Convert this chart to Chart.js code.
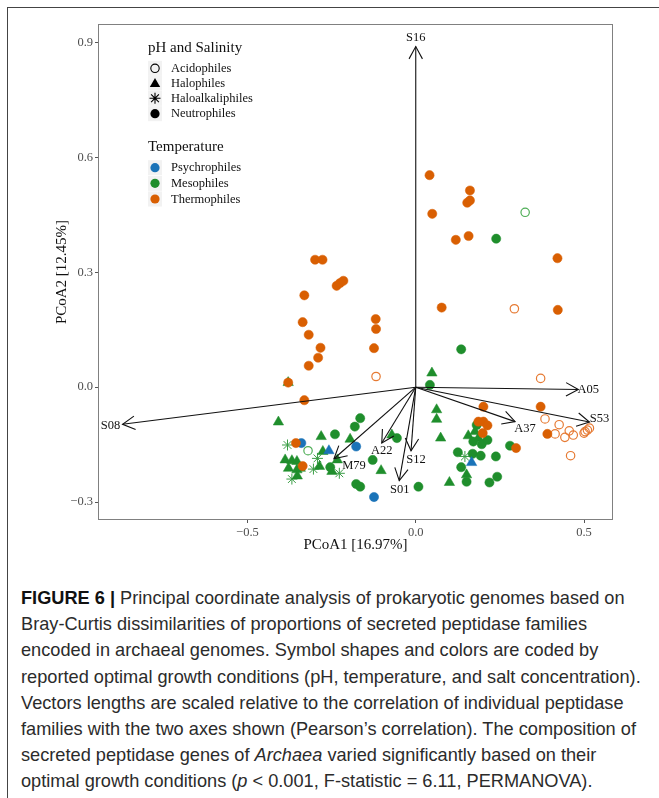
<!DOCTYPE html>
<html>
<head>
<meta charset="utf-8">
<script src="https://cdn.jsdelivr.net/npm/chart.js@4.4.0/dist/chart.umd.min.js"></script>
<style>
    html, body { margin: 0; padding: 0; background: #fff; }
    body { width: 659px; height: 798px; position: relative; overflow: hidden; }
    #frame { position: absolute; left: 7px; top: 7px; width: 700px; height: 820px;
             border-left: 1px solid #444; border-top: 1px solid #444; }
    #plot { position: absolute; left: 0; top: 0; width: 659px; height: 560px; }
    #caption { position: absolute; left: 21px; top: 585px; color: #2b2b2b;
               font-family: "Liberation Sans", Arial, sans-serif; font-size: 18.2px;
               line-height: 26.2px; white-space: nowrap; }
    #caption b { font-weight: bold; color: #111; }
</style>
</head>
<body>
<div id="frame"></div>
<div id="plot"><canvas id="pcoaChart"></canvas></div>
<div id="caption">
    <div><b>FIGURE 6 |</b> Principal coordinate analysis of prokaryotic genomes based on</div>
    <div>Bray-Curtis dissimilarities of proportions of secreted peptidase families</div>
    <div>encoded in archaeal genomes. Symbol shapes and colors are coded by</div>
    <div>reported optimal growth conditions (pH, temperature, and salt concentration).</div>
    <div>Vectors lengths are scaled relative to the correlation of individual peptidase</div>
    <div>families with the two axes shown (Pearson’s correlation). The composition of</div>
    <div>secreted peptidase genes of <i>Archaea</i> varied significantly based on their</div>
    <div>optimal growth conditions (<i>p</i> &lt; 0.001, F-statistic = 6.11, PERMANOVA).</div>
</div>
<script>
// axis ticks
const xTicks = [-0.5, 0, 0.5];
const yTicks = [-0.3, 0, 0.3, 0.6, 0.9];

// Thermophiles
const thermoNeutro = [
    [0.041, 0.554], [0.161, 0.514], [0.153, 0.482], [0.161, 0.488], [0.049, 0.453],
    [0.119, 0.385], [0.157, 0.395], [0.421, 0.337], [0.077, 0.208], [0.422, 0.202],
    [-0.299, 0.333], [-0.277, 0.333], [-0.235, 0.265], [-0.225, 0.272], [-0.215, 0.278],
    [-0.331, 0.240], [-0.336, 0.170], [-0.318, 0.137], [-0.283, 0.103], [-0.290, 0.077],
    [-0.318, 0.056], [-0.119, 0.178], [-0.118, 0.152], [-0.124, 0.102], [-0.379, 0.012],
    [-0.331, -0.034], [-0.356, -0.146], [-0.336, -0.206], [0.201, -0.051], [0.186, -0.090],
    [0.201, -0.090], [0.213, -0.100], [0.199, -0.120], [0.298, -0.159], [0.371, -0.051],
    [0.391, -0.122]
];
const thermoAcido = [
    [0.293, 0.205], [-0.118, 0.028], [0.371, 0.023], [0.384, -0.083], [0.426, -0.098],
    [0.414, -0.122], [0.443, -0.131], [0.456, -0.114], [0.468, -0.125], [0.460, -0.179],
    [0.503, -0.116], [0.510, -0.112], [0.516, -0.107], [0.500, -0.120]
];

// Mesophiles
const mesoAcido = [[0.325, 0.457], [-0.320, -0.166]];
const mesoNeutro = [
    [0.239, 0.388], [0.135, 0.099], [0.042, 0.006], [-0.165, -0.081], [-0.181, -0.103],
    [-0.240, -0.123], [-0.254, -0.209], [-0.128, -0.190], [-0.177, -0.253], [-0.165, -0.260],
    [-0.056, -0.133], [0.008, -0.260], [0.181, -0.099], [0.171, -0.142], [0.196, -0.149],
    [0.213, -0.138], [0.125, -0.170], [0.169, -0.174], [0.193, -0.179], [0.238, -0.181],
    [0.135, -0.209], [0.151, -0.247], [0.242, -0.234], [0.219, -0.249], [0.280, -0.153]
];
const mesoHalo = [
    [-0.379, 0.012], [-0.408, -0.091], [-0.281, -0.129], [-0.195, -0.136], [-0.276, -0.168],
    [-0.388, -0.190], [-0.368, -0.192], [-0.353, -0.194], [-0.378, -0.212], [-0.353, -0.216],
    [-0.343, -0.212], [-0.233, -0.190], [-0.286, -0.207], [-0.249, -0.220], [-0.352, -0.232],
    [-0.103, -0.218], [-0.071, -0.125], [0.048, 0.037], [0.062, -0.059], [0.062, -0.084],
    [0.074, -0.133], [0.156, -0.127], [0.176, -0.116], [0.186, -0.133], [0.151, -0.229],
    [0.100, -0.249]
];
const mesoHaloalk = [
    [-0.381, -0.151], [-0.292, -0.186], [-0.304, -0.214], [-0.227, -0.225], [-0.368, -0.240],
    [0.146, -0.181]
];

// Psychrophiles
const psychroNeutro = [[-0.340, -0.146], [-0.177, -0.155], [-0.124, -0.287]];
const psychroHalo = [[-0.258, -0.166], [0.166, -0.197]];

// peptidase family vectors
const vectorNames = ['S16', 'S08', 'A05', 'S53', 'A37', 'A22', 'S12', 'S01', 'M79'];
const vectorX = [0, -0.871, 0.483, 0.516, 0.295, -0.101, -0.014, -0.049, -0.243];
const vectorY = [0.89, -0.097, -0.006, -0.091, -0.090, -0.146, -0.166, -0.244, -0.187];
// label nudges in pixels (dx, dy) from the arrow tip
const vectorLabelShift = [[0, -9], [-12, 1], [10, 0], [10, -3], [10, 7], [0, 7.5], [5, 9], [0.5, 9], [20, 7]];

// legend entries
const shapeTitle = 'pH and Salinity';
const shapeLabels = ['Acidophiles', 'Halophiles', 'Haloalkaliphiles', 'Neutrophiles'];
const tempTitle = 'Temperature';
const tempLabels = ['Psychrophiles', 'Mesophiles', 'Thermophiles'];

const ORANGE = '#d95f02';
const GREEN = '#1f8e2c';
const BLUE = '#1a73b8';
const SERIF = '"Liberation Serif", "Times New Roman", serif';

function toXY(arr) {
    return arr.map(p => ({ x: p[0], y: p[1] }));
}

function pointSet(label, arr, color, style, hollow, order) {
    return {
        label: label,
        data: toXY(arr),
        pointStyle: style,
        pointRadius: style === 'triangle' ? 6 : (style === 'star' ? 5.5 : (hollow ? 4.2 : 4.6)),
        backgroundColor: hollow || style === 'star' ? 'rgba(0,0,0,0)' : color,
        borderColor: color,
        borderWidth: hollow ? 1.2 : (style === 'star' ? 1 : 0.5),
        order: order
    };
}

const datasets = [];
vectorNames.forEach(function(name, i) {
    datasets.push({
        label: name,
        data: [{ x: 0, y: 0 }, { x: vectorX[i], y: vectorY[i] }],
        showLine: true,
        borderColor: '#111',
        borderWidth: 1.1,
        pointRadius: 0,
        order: 0
    });
});
datasets.push(pointSet('Thermo neutro', thermoNeutro, ORANGE, 'circle', false, 1));
datasets.push(pointSet('Thermo acido', thermoAcido, '#e67a33', 'circle', true, 1));
datasets.push(pointSet('Psychro neutro', psychroNeutro, BLUE, 'circle', false, 2));
datasets.push(pointSet('Psychro halo', psychroHalo, BLUE, 'triangle', false, 2));
datasets.push(pointSet('Meso neutro', mesoNeutro, GREEN, 'circle', false, 3));
datasets.push(pointSet('Meso acido', mesoAcido, '#4fae57', 'circle', true, 3));
datasets.push(pointSet('Meso halo', mesoHalo, GREEN, 'triangle', false, 3));
datasets.push(pointSet('Meso haloalk', mesoHaloalk, '#3a9d45', 'star', false, 3));

// small symbol helpers for the legend keys
function drawSymbol(ctx, kind, x, y, color) {
    ctx.save();
    ctx.strokeStyle = color;
    ctx.fillStyle = color;
    ctx.lineWidth = 1.1;
    ctx.beginPath();
    if (kind === 'hollow') {
        ctx.arc(x, y, 4.2, 0, Math.PI * 2);
        ctx.stroke();
    } else if (kind === 'circle') {
        ctx.arc(x, y, 4.6, 0, Math.PI * 2);
        ctx.fill();
    } else if (kind === 'triangle') {
        const r = 6;
        for (let k = 0; k < 3; k++) {
            const a = k * 2 * Math.PI / 3;
            const px = x + Math.sin(a) * r, py = y - Math.cos(a) * r + 1;
            if (k === 0) ctx.moveTo(px, py); else ctx.lineTo(px, py);
        }
        ctx.closePath();
        ctx.fill();
    } else if (kind === 'star') {
        const r = 5.5, d = r * Math.SQRT1_2;
        ctx.moveTo(x, y - r); ctx.lineTo(x, y + r);
        ctx.moveTo(x - r, y); ctx.lineTo(x + r, y);
        ctx.moveTo(x - d, y - d); ctx.lineTo(x + d, y + d);
        ctx.moveTo(x - d, y + d); ctx.lineTo(x + d, y - d);
        ctx.stroke();
    }
    ctx.restore();
}

const panelBorder = {
    id: 'panelBorder',
    beforeDatasetsDraw(chart) {
        const { ctx, chartArea: a } = chart;
        ctx.save();
        ctx.strokeStyle = '#808080';
        ctx.lineWidth = 1;
        ctx.strokeRect(a.left + 0.5, a.top + 0.5, a.right - a.left - 1, a.bottom - a.top - 1);
        ctx.restore();
    }
};

const vectorDecor = {
    id: 'vectorDecor',
    afterDatasetsDraw(chart) {
        const { ctx, scales } = chart;
        const ox = scales.x.getPixelForValue(0), oy = scales.y.getPixelForValue(0);
        ctx.save();
        ctx.strokeStyle = '#111';
        ctx.lineWidth = 1.1;
        ctx.fillStyle = '#111';
        ctx.font = '12.5px ' + SERIF;
        ctx.textAlign = 'center';
        ctx.textBaseline = 'middle';
        vectorNames.forEach(function(name, i) {
            const tx = scales.x.getPixelForValue(vectorX[i]);
            const ty = scales.y.getPixelForValue(vectorY[i]);
            const ang = Math.atan2(ty - oy, tx - ox);
            const len = 14, spread = Math.PI / 6.3;
            ctx.beginPath();
            ctx.moveTo(tx - len * Math.cos(ang - spread), ty - len * Math.sin(ang - spread));
            ctx.lineTo(tx, ty);
            ctx.lineTo(tx - len * Math.cos(ang + spread), ty - len * Math.sin(ang + spread));
            ctx.stroke();
            const s = vectorLabelShift[i];
            ctx.fillText(name, tx + s[0], ty + s[1]);
        });
        ctx.restore();
    }
};

const groupLegend = {
    id: 'groupLegend',
    afterDraw(chart) {
        const ctx = chart.ctx;
        const keyX = 155, textX = 171;
        ctx.save();
        ctx.fillStyle = '#111';
        ctx.textAlign = 'left';
        ctx.textBaseline = 'alphabetic';
        ctx.font = '15px ' + SERIF;
        ctx.fillText(shapeTitle, 148, 51.5);
        ctx.fillText(tempTitle, 148, 151);

        const shapeY = [68.3, 83, 98.3, 113.7];
        const shapeKinds = ['hollow', 'triangle', 'star', 'circle'];
        const tempY = [167.7, 183.3, 199];
        const tempColors = [BLUE, GREEN, ORANGE];

        ctx.fillStyle = '#f2f2f2';
        shapeY.forEach(y => ctx.fillRect(keyX - 7, y - 7.5, 14, 15));
        tempY.forEach(y => ctx.fillRect(keyX - 7, y - 7.5, 14, 15));

        shapeY.forEach((y, i) => drawSymbol(ctx, shapeKinds[i], keyX, y, '#000'));
        tempY.forEach((y, i) => drawSymbol(ctx, 'circle', keyX, y, tempColors[i]));

        ctx.fillStyle = '#111';
        ctx.font = '12.5px ' + SERIF;
        ctx.textBaseline = 'middle';
        shapeLabels.forEach((t, i) => ctx.fillText(t, textX, shapeY[i] + 0.5));
        tempLabels.forEach((t, i) => ctx.fillText(t, textX, tempY[i] + 0.5));
        ctx.restore();
    }
};

function tickText(v) {
    return (v < 0 ? '\u2212' : '') + Math.abs(v).toFixed(1);
}

const ctx = document.getElementById('pcoaChart').getContext('2d');
const pcoaChart = new Chart(ctx, {
    type: 'scatter',
    data: { datasets: datasets },
    plugins: [panelBorder, vectorDecor, groupLegend],
    options: {
        responsive: true,
        maintainAspectRatio: false,
        animation: false,
        layout: { padding: { left: 0, right: 46, top: 24, bottom: 0 } },
        plugins: { legend: { display: false }, tooltip: { enabled: false } },
        scales: {
            x: {
                type: 'linear',
                min: -0.944,
                max: 0.586,
                afterBuildTicks: function(scale) { scale.ticks = xTicks.map(v => ({ value: v })); },
                afterFit: function(scale) { scale.height = 40; },
                border: { display: false },
                grid: { drawOnChartArea: false, drawTicks: true, tickLength: 3, color: '#555' },
                ticks: { color: '#4d4d4d', padding: 2, font: { family: SERIF, size: 12.5 },
                         callback: v => tickText(v) },
                title: { display: true, text: 'PCoA1 [16.97%]', color: '#111',
                         font: { family: SERIF, size: 15 }, padding: { top: 0, bottom: 6 } }
            },
            y: {
                type: 'linear',
                min: -0.347,
                max: 0.949,
                afterBuildTicks: function(scale) { scale.ticks = yTicks.map(v => ({ value: v })); },
                afterFit: function(scale) { scale.width = 98; },
                border: { display: false },
                grid: { drawOnChartArea: false, drawTicks: true, tickLength: 3, color: '#555' },
                ticks: { color: '#4d4d4d', padding: 2, font: { family: SERIF, size: 12.5 },
                         callback: v => tickText(v) },
                title: { display: true, text: 'PCoA2 [12.45%]', color: '#111',
                         font: { family: SERIF, size: 15 }, padding: { top: 53.5, bottom: 0 } }
            }
        }
    }
});
</script>
</body>
</html>
